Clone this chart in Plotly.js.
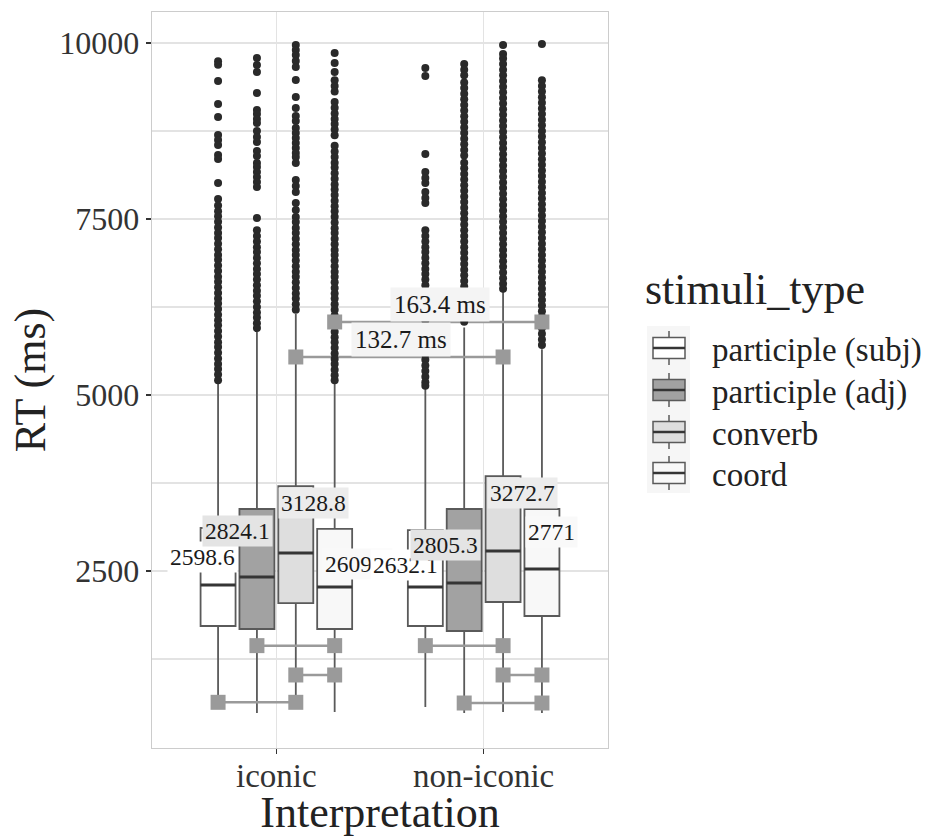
<!DOCTYPE html>
<html><head><meta charset="utf-8">
<script src="https://cdn.plot.ly/plotly-3.0.1.min.js"></script>
<style>html,body{margin:0;padding:0;background:#fff}#chart{width:926px;height:837px}</style>
</head><body><div id="chart"></div>
<script>
// ---------------- data ----------------
const categories = ['iconic', 'non-iconic'];
const stimuliTypes = ['participle (subj)', 'participle (adj)', 'converb', 'coord'];

// box statistics, per stimuli type: [iconic, non-iconic]
const q1 = [[1719, 1719], [1676, 1648], [2045, 2060], [1676, 1861]];
const medians = [[2301, 2273], [2415, 2330], [2756, 2784], [2273, 2528]];
const q3 = [[3111, 3082], [3381, 3381], [3707, 3849], [3097, 3381]];
const lowerWhisker = [[600, 568], [483, 483], [540, 497], [497, 483]];
const upperWhisker = [[5170, 5100], [5900, 5960], [6150, 6470], [5170, 5650]];
const meanLabels = [['2598.6', '2632.1'], ['2824.1', '2805.3'], ['3128.8', '3272.7'], ['2609.2', '2771']];
const meanValues = [[2598.6, 2632.1], [2824.1, 2805.3], [3128.8, 3272.7], [2609.2, 2771]];

// outliers
const outSubjIconic = [9740,9690,9460,9133,8949,8693,8622,8551,8409,8352,8011,7784,7690,7610,7540,7460,7380,7300,7230,7150,7070,6990,6920,6840,6760,6680,6610,6530,6450,6370,6300,6220,6140,6060,5990,5910,5830,5750,5680,5600,5520,5440,5370,5290,5210];
const outSubjNonIconic = [9645,9531,8423,8168,8082,8011,7884,7798,7727,7340,7260,7180,7100,7030,6950,6870,6790,6720,6640,6560,6480,6400,6320,6240,6160,6060,5900,5820,5740,5660,5580,5500,5420,5340,5260,5180,5130];
const outAdjIconic = [9787,9688,9588,9290,9048,8991,8920,8864,8750,8665,8594,8466,8395,8295,8239,8168,8097,8026,7955,7514,7340,7260,7180,7100,7030,6950,6870,6790,6720,6640,6560,6480,6410,6330,6250,6170,6100,6020,5950];
const outAdjNonIconic = [9700,9620,9540,9440,9360,9280,9200,9120,9040,8960,8880,8800,8720,8640,8560,8480,8400,8300,8220,8140,8060,7980,7900,7820,7740,7660,7580,7500,7420,7340,7260,7180,7100,7020,6940,6860,6780,6700,6620,6540,6040];
const outConverbIconic = [9972,9901,9830,9744,9659,9474,9233,9077,8963,8892,8793,8722,8651,8580,8509,8438,8381,8295,8054,7969,7884,7727,7628,7528,7457,7372,7300,7220,7140,7060,6990,6910,6830,6750,6680,6600,6520,6440,6370,6290,6210];
const outConverbNonIconic = [9972,9844,9780,9700,9620,9540,9460,9380,9300,9220,9140,9060,8980,8900,8820,8740,8660,8580,8500,8420,8340,8260,8180,8100,8020,7940,7860,7780,7700,7620,7540,7460,7380,7300,7220,7140,7060,6980,6900,6820,6740,6660,6580,6510];
const outCoordIconic = [9858,9716,9588,9470,9390,9310,9160,9080,9000,8920,8850,8770,8690,8540,8460,8380,8300,8230,8150,8070,7990,7920,7840,7760,7680,7610,7530,7450,7370,7300,7220,7140,7060,6990,6910,6830,6750,6680,6600,6520,6440,6370,6290,6210,6130,6060,5980,5900,5820,5750,5670,5590,5510,5440,5360,5280,5210];
const outCoordNonIconic = [9986,9470,9390,9310,9230,9150,9070,8990,8910,8830,8750,8670,8590,8510,8430,8350,8270,8190,8110,8030,7950,7870,7790,7710,7630,7550,7470,7390,7310,7230,7150,7070,6990,6910,6830,6750,6670,6590,6510,6430,6350,6270,6190,6110,6030,5950,5870,5790,5710];
const outliers = [
  [outSubjIconic, outSubjNonIconic],
  [outAdjIconic, outAdjNonIconic],
  [outConverbIconic, outConverbNonIconic],
  [outCoordIconic, outCoordNonIconic]
];

// comparison brackets: [category index, stimuli type index]
const bracketStart = [[0,3],[0,2],[0,1],[0,2],[0,0],[1,0],[1,2],[1,1]];
const bracketEnd   = [[1,3],[1,2],[0,3],[0,3],[0,2],[1,2],[1,3],[1,3]];
const bracketY = [6037, 5540, 1440, 1023, 635, 1440, 1023, 625];
const bracketText = ['163.4 ms', '132.7 ms', '', '', '', '', '', ''];
const yTicks = [2500, 5000, 7500, 10000];
const yMinorTicks = [1250, 3750, 6250, 8750];

// ---------------- styles ----------------
const FONT = 'Liberation Serif, Times New Roman, serif';
const fills = ['#ffffff', '#a2a2a2', '#dedede', '#f8f8f8'];
const labelBg = ['#ffffff', '#e4e4e4', '#ececec', '#f9f9f9'];
const labelAnchor = ['right', 'right', 'left', 'left'];
const labelXShift = [[20, 16], [16, 17], [-18, -16], [-13, -17]];
const labelYShift = [[7, -3], [17, 5], [24, 24], [-1, 20]];

const NT = stimuliTypes.length;
const SLOT = 0.75 / NT;
const BOXW = SLOT * 0.9;
function pos(ci, ti) { return (ci + 1) + (ti - (NT - 1) / 2) * SLOT; }

const traces = [];
// boxes
stimuliTypes.forEach((name, ti) => {
  traces.push({
    type: 'box', name: name,
    x: categories.map((c, ci) => pos(ci, ti)),
    q1: q1[ti], median: medians[ti], q3: q3[ti],
    lowerfence: lowerWhisker[ti], upperfence: upperWhisker[ti],
    width: BOXW, fillcolor: fills[ti],
    line: { color: '#5a5a5a', width: 1.8 }, whiskerwidth: 0,
    boxpoints: false, showlegend: false, hoverinfo: 'skip'
  });
});
// thicker medians
stimuliTypes.forEach((name, ti) => {
  const xs = [], ys = [];
  categories.forEach((c, ci) => {
    const p = pos(ci, ti);
    xs.push(p - BOXW / 2, p + BOXW / 2, null);
    ys.push(medians[ti][ci], medians[ti][ci], null);
  });
  traces.push({ type: 'scatter', mode: 'lines', x: xs, y: ys,
    line: { color: '#353535', width: 3 }, hoverinfo: 'skip', showlegend: false });
});
// bracket lines
{
  const xs = [], ys = [];
  bracketY.forEach((y, i) => {
    xs.push(pos(bracketStart[i][0], bracketStart[i][1]), pos(bracketEnd[i][0], bracketEnd[i][1]), null);
    ys.push(y, y, null);
  });
  traces.push({ type: 'scatter', mode: 'lines', x: xs, y: ys,
    line: { color: '#9a9a9a', width: 2.5 }, hoverinfo: 'skip', showlegend: false });
}
// outliers
stimuliTypes.forEach((name, ti) => {
  const xs = [], ys = [];
  categories.forEach((c, ci) => {
    outliers[ti][ci].forEach(v => { xs.push(pos(ci, ti)); ys.push(v); });
  });
  traces.push({ type: 'scatter', mode: 'markers', x: xs, y: ys,
    marker: { color: '#2a2a2a', size: 8, line: { width: 0 } },
    hoverinfo: 'skip', showlegend: false });
});
// bracket end squares
{
  const xs = [], ys = [];
  bracketY.forEach((y, i) => {
    xs.push(pos(bracketStart[i][0], bracketStart[i][1]), pos(bracketEnd[i][0], bracketEnd[i][1]));
    ys.push(y, y);
  });
  traces.push({ type: 'scatter', mode: 'markers', x: xs, y: ys,
    marker: { color: '#9a9a9a', size: 15, symbol: 'square', line: { width: 0 } },
    hoverinfo: 'skip', showlegend: false });
}

const annotations = [];
// mean labels
categories.forEach((c, ci) => {
  stimuliTypes.forEach((name, ti) => {
    annotations.push({
      x: pos(ci, ti), y: meanValues[ti][ci], xref: 'x', yref: 'y',
      text: meanLabels[ti][ci], showarrow: false,
      xanchor: labelAnchor[ti], yanchor: 'middle',
      xshift: labelXShift[ti][ci], yshift: labelYShift[ti][ci],
      bgcolor: labelBg[ti], borderpad: 2,
      font: { family: FONT, size: 23.5, color: '#1a1a1a' }
    });
  });
});
// bracket labels
bracketText.forEach((t, i) => {
  if (!t) return;
  const xm = (pos(bracketStart[i][0], bracketStart[i][1]) + pos(bracketEnd[i][0], bracketEnd[i][1])) / 2;
  annotations.push({
    x: xm, y: bracketY[i], xref: 'x', yref: 'y', text: t, showarrow: false,
    xanchor: 'center', yanchor: 'middle', yshift: 17, xshift: 2,
    bgcolor: '#f4f4f4', borderpad: 3,
    font: { family: FONT, size: 25, color: '#1a1a1a' }
  });
});

// custom legend (pixel layout converted to paper coords)
const PL = 152, PR = 608, PT = 12, PB = 748;
const px = v => (v - PL) / (PR - PL);
const py = v => (PB - v) / (PB - PT);
const shapes = [];
shapes.push({ type: 'rect', xref: 'paper', yref: 'paper', x0: px(647), x1: px(690), y0: py(326), y1: py(493),
  fillcolor: '#f6f6f6', line: { width: 0 }, layer: 'above' });
const rowY = [348, 390, 432, 473];
annotations.push({ xref: 'paper', yref: 'paper', x: px(643), y: py(290), xanchor: 'left', yanchor: 'middle',
  text: 'stimuli_type', showarrow: false, font: { family: FONT, size: 44, color: '#222' } });
stimuliTypes.forEach((name, ti) => {
  const cy = rowY[ti];
  shapes.push({ type: 'line', xref: 'paper', yref: 'paper', x0: px(669), x1: px(669), y0: py(cy - 17), y1: py(cy + 17),
    line: { color: '#5a5a5a', width: 1.5 }, layer: 'above' });
  shapes.push({ type: 'rect', xref: 'paper', yref: 'paper', x0: px(653), x1: px(685), y0: py(cy - 10.5), y1: py(cy + 10.5),
    fillcolor: fills[ti], line: { color: '#5a5a5a', width: 1.5 }, layer: 'above' });
  shapes.push({ type: 'line', xref: 'paper', yref: 'paper', x0: px(653), x1: px(685), y0: py(cy), y1: py(cy),
    line: { color: '#353535', width: 2.5 }, layer: 'above' });
  annotations.push({ xref: 'paper', yref: 'paper', x: px(710), y: py(cy + 2), xanchor: 'left', yanchor: 'middle',
    text: name, showarrow: false, font: { family: FONT, size: 33, color: '#222' } });
});

const layout = {
  width: 926, height: 837,
  margin: { l: PL, r: 926 - PR, t: PT, b: 837 - PB, pad: 0 },
  paper_bgcolor: '#ffffff', plot_bgcolor: '#ffffff',
  font: { family: FONT, color: '#333' },
  showlegend: false, boxmode: 'overlay',
  xaxis: {
    range: [0.4, 2.6], tickvals: [1, 2], ticktext: categories,
    showgrid: true, gridcolor: '#e3e3e3', gridwidth: 1.3, zeroline: false,
    showline: true, mirror: true, linecolor: '#cccccc', linewidth: 1.3,
    ticks: 'outside', ticklen: 5, tickcolor: '#333', tickwidth: 1.3,
    ticklabelstandoff: -7,
    tickfont: { family: FONT, size: 33, color: '#333' },
    title: { text: 'Interpretation', font: { family: FONT, size: 44, color: '#222' }, standoff: 6 },
    automargin: false, fixedrange: true
  },
  yaxis: {
    range: [-14, 10440], tickvals: yTicks, ticktext: yTicks.map(String),
    showgrid: true, gridcolor: '#e3e3e3', gridwidth: 1.3, zeroline: false,
    minor: { tickvals: yMinorTicks, showgrid: true, gridcolor: '#e3e3e3', gridwidth: 1.3 },
    showline: true, mirror: true, linecolor: '#cccccc', linewidth: 1.3,
    ticks: 'outside', ticklen: 5, tickcolor: '#333', tickwidth: 1.3,
    tickfont: { family: FONT, size: 32, color: '#333' },
    title: { text: 'RT (ms)', font: { family: FONT, size: 44, color: '#222' }, standoff: 0 },
    automargin: false, fixedrange: true
  },
  annotations: annotations,
  shapes: shapes
};

Plotly.newPlot('chart', traces, layout, { staticPlot: true, displayModeBar: false });
</script>
</body></html>
